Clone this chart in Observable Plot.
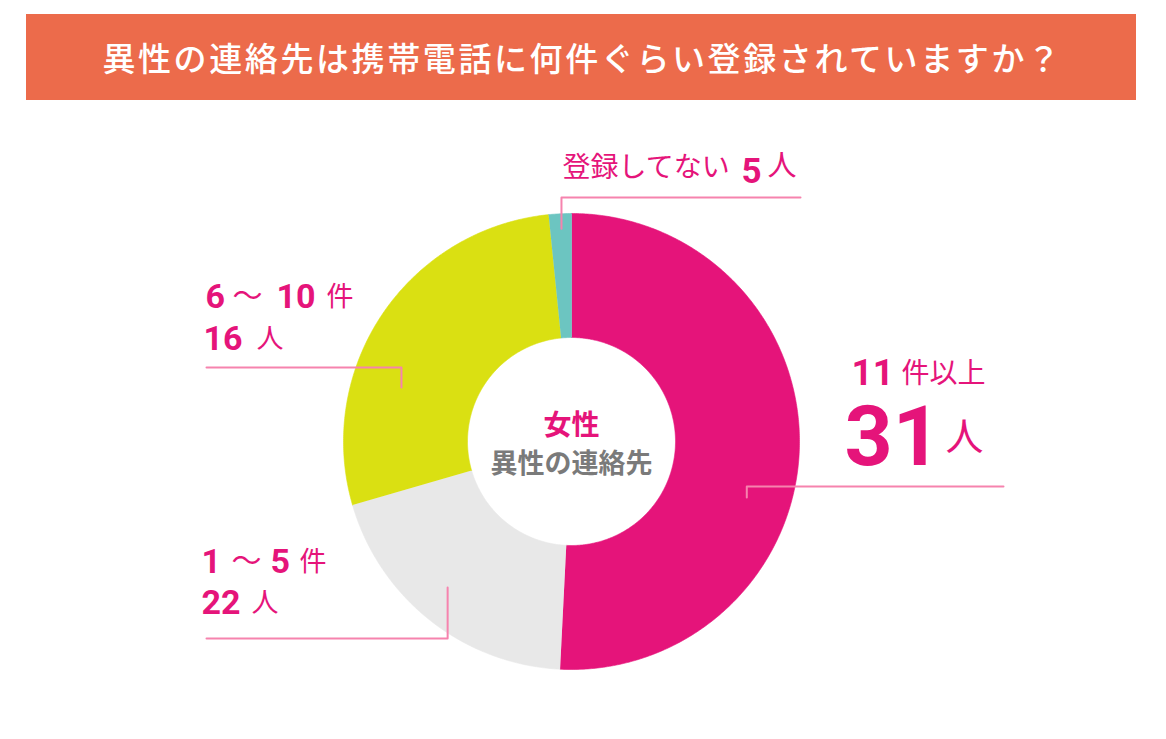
<!DOCTYPE html>
<html><head><meta charset="utf-8">
<script src="https://cdn.jsdelivr.net/npm/d3@7"></script>
<script src="https://cdn.jsdelivr.net/npm/@observablehq/plot@0.6"></script>
<style>
body{margin:0;background:#fff;font-family:"Noto Sans CJK JP",sans-serif;}
#banner{position:absolute;left:26px;top:14px;width:1110px;height:86px;background:#ec6b4b;color:#fff;display:flex;align-items:center;justify-content:center;font-size:33px;font-weight:500;letter-spacing:2.6px;padding-left:3px;box-sizing:border-box;}
#chart{position:absolute;left:0;top:100px;}
</style></head><body>
<div id="banner">異性の連絡先は携帯電話に何件ぐらい登録されていますか？</div>
<div id="chart"></div>
<script>
// ---- data ----
const categories = ["11件以上", "1〜5件", "6〜10件", "登録してない"];
const counts = [31, 22, 16, 5];
// share of the circle each slice occupies as drawn in the picture (percent)
const shares = [50.8, 19.7, 27.9, 1.6];
const colors = ["#e5147a", "#e8e8e8", "#dae012", "#6cc5c1"];

// ---- layout ----
const W = 1166, H = 639, TOP = 100;
const cx = 571, cy = 441, R = 228, R0 = 104;
const MAG = "#e5147a", LINE = "#f683ae", GREY = "#7a7a7a";
const CJK = "Noto Sans CJK JP", NUM = "Roboto";

// slice polygons
const total = d3.sum(shares);
const slicePts = [];
let acc = 0;
categories.forEach((c, i) => {
  const a0 = acc / total * 2 * Math.PI; acc += shares[i];
  const a1 = acc / total * 2 * Math.PI;
  const n = Math.max(2, Math.ceil((a1 - a0) / (Math.PI / 360)));
  for (let k = 0; k <= n; k++) { const a = a0 + (a1 - a0) * k / n; slicePts.push({cat: c, x: cx + R * Math.sin(a), y: cy - R * Math.cos(a)}); }
  for (let k = n; k >= 0; k--) { const a = a0 + (a1 - a0) * k / n; slicePts.push({cat: c, x: cx + R0 * Math.sin(a), y: cy - R0 * Math.cos(a)}); }
});

// leader lines: anchor inside slice (angle deg clockwise from top, radius), elbow y, end x
const leaders = [
  {cat: categories[0], angle: 107.7, radius: 184, elbowY: 486, endX: 1003},
  {cat: categories[1], angle: 220.3, radius: 191.5, elbowY: 638, endX: 206},
  {cat: categories[2], angle: 287.6, radius: 178.4, elbowY: 367, endX: 206},
  {cat: categories[3], angle: 357.3, radius: 213, elbowY: 197, endX: 800}
];
const leaderPts = leaders.flatMap(l => {
  const a = l.angle * Math.PI / 180;
  const ax = cx + l.radius * Math.sin(a), ay = cy - l.radius * Math.cos(a);
  return [{cat: l.cat, x: ax, y: ay}, {cat: l.cat, x: ax, y: l.elbowY}, {cat: l.cat, x: l.endX, y: l.elbowY}];
});

// label text runs (baseline positions)
const runs = [
  {text: "登録してない", x: 562, y: 176, size: 28, weight: 400, font: CJK},
  {text: String(counts[3]), x: 741, y: 182, size: 35, weight: 700, font: NUM},
  {text: "人", x: 767, y: 175, size: 29, weight: 400, font: CJK},

  {text: "11", x: 851, y: 384, size: 37, weight: 700, font: NUM},
  {text: "件以上", x: 901, y: 382, size: 28, weight: 400, font: CJK},
  {text: String(counts[0]), x: 844, y: 464, size: 84, weight: 700, font: NUM},
  {text: "人", x: 945, y: 449, size: 38, weight: 400, font: CJK},

  {text: "6", x: 205, y: 307, size: 34, weight: 700, font: NUM},
  {text: "〜", x: 232, y: 305, size: 30, weight: 400, font: CJK},
  {text: "10", x: 276, y: 307, size: 34, weight: 700, font: NUM},
  {text: "件", x: 326, y: 305, size: 27, weight: 400, font: CJK},
  {text: String(counts[2]), x: 203, y: 349, size: 34, weight: 700, font: NUM},
  {text: "人", x: 256, y: 347, size: 27, weight: 400, font: CJK},

  {text: "1", x: 201, y: 572, size: 34, weight: 700, font: NUM},
  {text: "〜", x: 231, y: 570, size: 30, weight: 400, font: CJK},
  {text: "5", x: 270, y: 572, size: 34, weight: 700, font: NUM},
  {text: "件", x: 299, y: 570, size: 27, weight: 400, font: CJK},
  {text: String(counts[1]), x: 201, y: 613, size: 34, weight: 700, font: NUM},
  {text: "人", x: 251, y: 611, size: 27, weight: 400, font: CJK}
];

const chart = Plot.plot({
  width: W, height: H,
  margin: 0,
  x: {domain: [0, W], range: [0, W], axis: null},
  y: {domain: [TOP, TOP + H], range: [0, H], axis: null},
  color: {domain: categories, range: colors},
  style: {background: "white"},
  marks: [
    Plot.line(slicePts, {x: "x", y: "y", z: "cat", fill: "cat", stroke: "cat", strokeWidth: 0.6, curve: "linear"}),
    Plot.line(leaderPts, {x: "x", y: "y", z: "cat", stroke: LINE, strokeWidth: 2, curve: "linear"}),
    ...runs.map(r => Plot.text([r], {x: "x", y: "y", text: "text", fontSize: r.size, fontWeight: r.weight, fontFamily: r.font, fill: MAG, textAnchor: "start", lineAnchor: "bottom"})),
    Plot.text(["女性"], {x: () => cx, y: () => 426, text: d => d, fontSize: 28, fontWeight: 700, fontFamily: CJK, fill: MAG}),
    Plot.text(["異性の連絡先"], {x: () => cx, y: () => 464, text: d => d, fontSize: 27, fontWeight: 700, fontFamily: CJK, fill: GREY})
  ]
});
document.getElementById("chart").appendChild(chart);
</script>
</body></html>
